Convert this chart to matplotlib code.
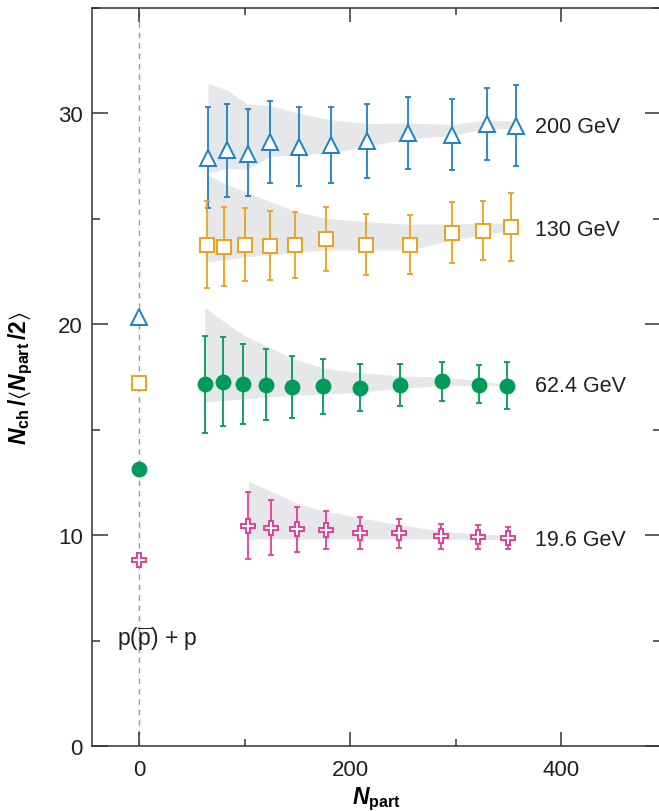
import matplotlib
matplotlib.use("Agg")
import matplotlib.pyplot as plt
from matplotlib.ticker import MultipleLocator

plt.rcParams['font.family'] = ['Liberation Sans', 'DejaVu Sans']
plt.rcParams['mathtext.fontset'] = 'custom'
plt.rcParams['mathtext.rm'] = 'Liberation Sans:bold'
plt.rcParams['mathtext.it'] = 'Liberation Sans:italic:bold'
plt.rcParams['mathtext.bf'] = 'Liberation Sans:bold'
plt.rcParams['mathtext.sf'] = 'Liberation Sans'
plt.rcParams['mathtext.fallback'] = 'stixsans'

# --- data ---
energies = ['200 GeV', '130 GeV', '62.4 GeV', '19.6 GeV']

npart_200 = [65, 83.5, 102.6, 123.8, 151.7, 182.2, 215.9, 255.2, 296.9, 329.5, 357.4]
nch_200 = [27.9, 28.25, 28.1, 28.65, 28.4, 28.5, 28.7, 29.05, 29.0, 29.5, 29.4]
err_hi_200 = [2.4, 2.2, 2.1, 1.95, 1.9, 1.8, 1.75, 1.75, 1.7, 1.7, 1.95]
err_lo_200 = [2.4, 2.2, 2.0, 1.95, 1.85, 1.8, 1.75, 1.7, 1.7, 1.7, 1.9]
band_hi_200 = [31.45, 31.1, 30.45, 30.38, 30.0, 29.7, 29.52, 29.55, 29.47, 29.7, 29.63]
band_lo_200 = [27.17, 27.4, 27.35, 27.96, 28.05, 28.12, 28.45, 28.79, 28.95, 29.3, 29.26]

npart_130 = [63.8, 80.3, 100, 123.5, 148, 177, 214.6, 256.5, 297, 325.7, 352.7]
nch_130 = [23.77, 23.69, 23.78, 23.73, 23.76, 24.03, 23.78, 23.78, 24.32, 24.44, 24.6]
err_hi_130 = [2.06, 1.87, 1.73, 1.64, 1.56, 1.51, 1.46, 1.42, 1.46, 1.42, 1.64]
err_lo_130 = [2.03, 1.87, 1.72, 1.61, 1.56, 1.5, 1.44, 1.41, 1.41, 1.41, 1.59]
band_hi_130 = [27.1, 26.7, 26.3, 25.83, 25.35, 25.03, 24.87, 24.75, 24.75, 24.8, 24.8]
band_lo_130 = [22.97, 23.05, 23.2, 23.29, 23.42, 23.53, 23.53, 23.53, 24.0, 24.24, 24.43]

npart_62 = [62, 79, 98, 120, 145, 174, 209, 247, 287, 322, 349]
nch_62 = [17.15, 17.28, 17.15, 17.13, 17.04, 17.07, 17.0, 17.12, 17.29, 17.13, 17.09]
err_hi_62 = [2.3, 2.14, 1.91, 1.7, 1.44, 1.27, 1.11, 0.98, 0.93, 0.92, 1.12]
err_lo_62 = [2.3, 2.11, 1.89, 1.67, 1.48, 1.3, 1.09, 1.0, 0.95, 0.88, 1.09]
band_hi_62 = [20.79, 20.18, 19.5, 18.98, 18.4, 17.93, 17.7, 17.56, 17.5, 17.35, 17.12]
band_lo_62 = [16.33, 16.38, 16.45, 16.55, 16.62, 16.7, 16.77, 16.96, 17.09, 17.09, 17.09]

npart_19 = [103.5, 125, 150, 177, 209.5, 246, 286, 321, 349.5]
nch_19 = [10.44, 10.34, 10.28, 10.23, 10.12, 10.1, 9.94, 9.93, 9.87]
err_hi_19 = [1.61, 1.31, 1.04, 0.92, 0.76, 0.65, 0.61, 0.55, 0.53]
err_lo_19 = [1.59, 1.28, 1.08, 0.9, 0.78, 0.71, 0.61, 0.57, 0.54]
band_hi_19 = [12.56, 12.08, 11.5, 11.13, 10.83, 10.5, 10.2, 10.05, 9.99]
band_lo_19 = [9.8, 9.82, 9.83, 9.83, 9.83, 9.83, 9.82, 9.8, 9.8]

# p(pbar)+p reference points at Npart ~ 0
npart_pp = 0
nch_pp = [20.35, 17.2, 13.15, 8.8]

colors = ['#1a82c6', '#e9a31c', '#009b58', '#e0409b']
markers = ['^', 's', 'o', 'P']
filled = [False, False, True, False]
msizes = [11, 10, 10, 10.5]
label_y = [29.4, 24.5, 17.1, 9.8]

series = [
    (npart_200, nch_200, err_lo_200, err_hi_200, band_lo_200, band_hi_200),
    (npart_130, nch_130, err_lo_130, err_hi_130, band_lo_130, band_hi_130),
    (npart_62, nch_62, err_lo_62, err_hi_62, band_lo_62, band_hi_62),
    (npart_19, nch_19, err_lo_19, err_hi_19, band_lo_19, band_hi_19),
]

fig = plt.figure(figsize=(6.59, 8.12), dpi=100)
ax = fig.add_axes([0.1396, 0.080, 0.8634, 0.9089])

ax.axvline(0, color='#9a9a9a', lw=1.0, ls=(0, (4, 3.5)), zorder=1)

for i, (x, y, elo, ehi, blo, bhi) in enumerate(series):
    ax.fill_between(x, blo, bhi, color='#e6e7e8', lw=0, zorder=1)
    ax.errorbar(x, y, yerr=[elo, ehi], fmt='none', ecolor=colors[i],
                elinewidth=1.3, capsize=2.2, capthick=1.3, zorder=2)
    face = colors[i] if filled[i] else 'white'
    ax.plot(x, y, ls='none', marker=markers[i], ms=msizes[i], mfc=face,
            mec=colors[i], mew=1.4, zorder=3)
    ax.plot(npart_pp, nch_pp[i], ls='none', marker=markers[i], ms=msizes[i],
            mfc=face, mec=colors[i], mew=1.4, zorder=3)
    ax.text(375, label_y[i], energies[i], fontsize=15.5, color='#231f20',
            ha='left', va='center')

ax.text(17, 5.13, r'p($\overline{\mathsf{p}}$) + p', fontsize=16.5,
        color='#231f20', ha='center', va='center')

ax.set_xlim(-45, 495)
ax.set_ylim(0, 35)
ax.xaxis.set_major_locator(MultipleLocator(200))
ax.xaxis.set_minor_locator(MultipleLocator(100))
ax.yaxis.set_major_locator(MultipleLocator(10))
ax.yaxis.set_minor_locator(MultipleLocator(5))

ax.tick_params(which='both', direction='in', top=True, right=True,
               color='#333333', width=1.1, labelsize=16, labelcolor='#231f20')
ax.tick_params(axis='x', which='major', length=10, pad=9)
ax.tick_params(axis='x', which='minor', length=5)
ax.tick_params(axis='y', which='major', length=11.5, pad=6.5)
ax.tick_params(axis='y', which='minor', length=5.8)
for sp in ax.spines.values():
    sp.set_color('#333333')
    sp.set_linewidth(1.1)

ax.set_xlabel(r'$N_{\mathbf{part}}$', fontsize=16.5)
ax.xaxis.set_label_coords(0.5, -0.052)
ax.set_ylabel(r'$N_{\mathbf{ch}}\,/\langle N_{\mathbf{part}}\,/2\rangle$',
              fontsize=16.5)
ax.yaxis.set_label_coords(-0.10, 0.5)

fig.savefig('out.png', dpi=100)
